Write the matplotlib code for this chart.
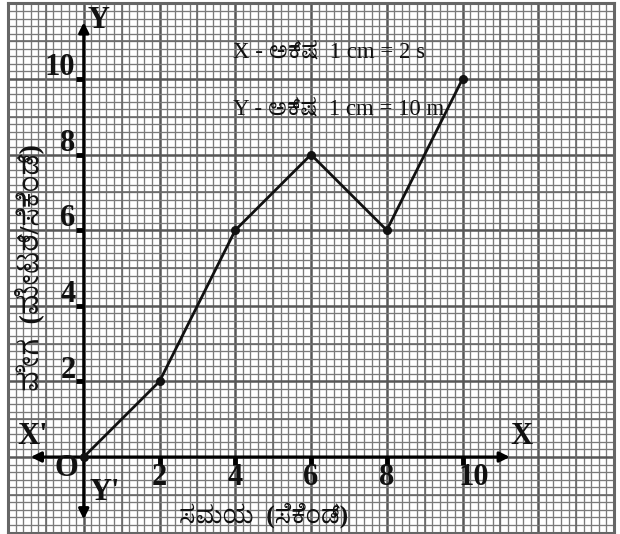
import numpy as np
import matplotlib
matplotlib.use('Agg')
import matplotlib.pyplot as plt
from matplotlib.ticker import MultipleLocator

# Time (s) and plotted values
time_s = [0, 2, 4, 6, 8, 10]
distance = [0, 2, 6, 8, 6, 10]

x_ticks = [2, 4, 6, 8, 10]
y_ticks = [2, 4, 6, 8, 10]

x_label = 'ಸಮಯ  (ಸೆಕೆಂಡ್)'
y_label = 'ವೇಗ  (ಮೀಟರ್/ಸೆಕೆಂಡ್)'
scale_lines = ['X - ಅಕ್ಷ  1 cm = 2 s', 'Y - ಅಕ್ಷ  1 cm = 10 m']

SERIF = ['Liberation Serif', 'Noto Serif Kannada', 'Noto Sans Kannada', 'DejaVu Sans']
plt.rcParams['font.family'] = SERIF

fig = plt.figure(figsize=(6.2, 5.34), dpi=100)
ax = fig.add_axes([8 / 620, 1.4 / 534, 606 / 620, 529.2 / 534])
ax.set_xlim(-2, 14)
ax.set_ylim(-2, 12)

# graph paper: 1 mm, 5 mm and 1 cm lines
ax.xaxis.set_major_locator(MultipleLocator(2))
ax.yaxis.set_major_locator(MultipleLocator(2))
ax.xaxis.set_minor_locator(MultipleLocator(0.2))
ax.yaxis.set_minor_locator(MultipleLocator(0.2))
ax.grid(which='minor', color='#7a7a7a', lw=0.95)
ax.grid(which='major', color='#575757', lw=1.8)
for v in np.arange(-1, 14, 2):
    ax.axvline(v, color='#6a6a6a', lw=1.2, zorder=0.6)
for v in np.arange(-1, 12, 2):
    ax.axhline(v, color='#6a6a6a', lw=1.2, zorder=0.6)
ax.set_axisbelow(True)
ax.tick_params(which='both', length=0, labelbottom=False, labelleft=False)
for s in ax.spines.values():
    s.set_color('#666666')
    s.set_linewidth(2.2)

# main axes with arrows
ax.annotate('', xy=(11.25, 0), xytext=(-1.4, 0),
            arrowprops=dict(arrowstyle='<|-|>', color='black', lw=2.2,
                            mutation_scale=15, shrinkA=0, shrinkB=0))
ax.annotate('', xy=(0, 11.5), xytext=(0, -1.65),
            arrowprops=dict(arrowstyle='<|-|>', color='black', lw=2.2,
                            mutation_scale=15, shrinkA=0, shrinkB=0))

# tick stubs
ax.plot(x_ticks, [0] * len(x_ticks), ls='none', marker=3, ms=6, mew=3.5, color='black')
ax.plot([0] * len(y_ticks), y_ticks, ls='none', marker=0, ms=6, mew=3.5, color='black')

tick_font = dict(fontsize=22, fontweight='bold', color='#111111')
for t in x_ticks:
    ax.text(t + (0.3 if t >= 10 else 0), -0.55, str(t), ha='center', va='center', **tick_font)
for t in y_ticks:
    ax.text(-0.22, t + 0.3, str(t), ha='right', va='center', **tick_font)

letter_font = dict(fontsize=22, fontweight='bold', color='#111111', va='center')
ax.text(0.38, 11.55, 'Y', ha='center', **letter_font)
ax.text(11.55, 0.55, 'X', ha='center', **letter_font)
ax.text(-1.35, 0.55, "X'", ha='center', **letter_font)
ax.text(0.55, -0.95, "Y'", ha='center', **letter_font)
ax.text(-0.45, -0.3, 'O', ha='center', **letter_font)

# the plotted line
ax.plot(time_s, distance, color='#111111', lw=2.0, marker='o', ms=5.5, zorder=5)

# scale note
ax.text(3.95, 10.72, scale_lines[0], fontsize=16.5, ha='left', va='center', color='#111111')
ax.text(3.95, 9.2, scale_lines[1], fontsize=16.5, ha='left', va='center', color='#111111')

ax.text(4.75, -1.55, x_label, fontsize=18, fontweight='bold', ha='center', va='center', color='#111111')
ax.text(-1.45, 5.0, y_label, fontsize=20, fontweight='bold', rotation=90,
        ha='center', va='center', color='#111111')

fig.savefig('out.png', dpi=100)
